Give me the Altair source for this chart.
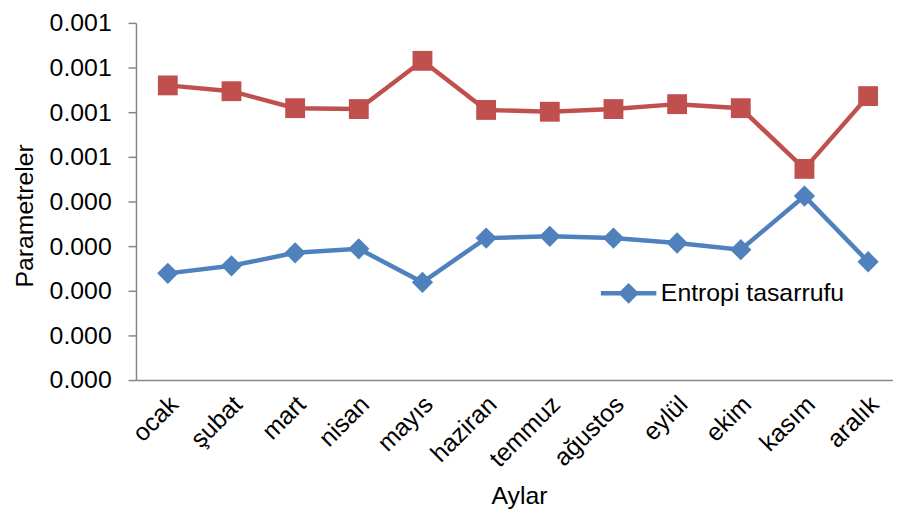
import altair as alt
import pandas as pd

months = ["ocak", "şubat", "mart", "nisan", "mayıs", "haziran", "temmuz",
          "ağustos", "eylül", "ekim", "kasım", "aralık"]
entropi = [0.000239, 0.000256, 0.000285, 0.000294, 0.000219, 0.000318,
           0.000322, 0.000318, 0.000307, 0.000292, 0.000412, 0.000265]
ikinci = [0.000660, 0.000647, 0.000609, 0.000607, 0.000715, 0.000605,
          0.000601, 0.000607, 0.000618, 0.000609, 0.000473, 0.000636]
series_names = ["Entropi tasarrufu", "Ekserji kaybı"]
y_ticks = [0.0, 0.0001, 0.0002, 0.0003, 0.0004, 0.0005, 0.0006, 0.0007, 0.0008]

rows = []
for m, a, b in zip(months, entropi, ikinci):
    rows.append({"ay": m, "seri": series_names[0], "deger": a})
    rows.append({"ay": m, "seri": series_names[1], "deger": b})
df = pd.DataFrame(rows)

FONT = "Liberation Sans"
FS = 25
BLUE = "#4F81BD"
RED = "#C0504D"
color_scale = alt.Scale(domain=series_names, range=[BLUE, RED])

x_enc = alt.X("ay:N", sort=months,
              scale=alt.Scale(paddingInner=0, paddingOuter=0, range=[0, 770]),
              axis=alt.Axis(title="Aylar", labelAngle=-45, labelAlign="right",
                            labelBaseline="middle", labelFontSize=FS,
                            titleFontSize=FS, titleFontWeight="normal",
                            labelFont=FONT, titleFont=FONT, labelColor="black",
                            titleColor="black", ticks=False, labelPadding=20,
                            labelOffset=6, titleX=386,
                            domainColor="#868686", domainWidth=1.5,
                            titlePadding=12))
y_enc = alt.Y("deger:Q", scale=alt.Scale(domain=[0, 0.0008], nice=False),
              axis=alt.Axis(title="Parametreler", values=y_ticks, format=".3f",
                            labelFontSize=FS, titleFontSize=FS,
                            titleFontWeight="normal", labelFont=FONT,
                            titleFont=FONT, labelColor="black",
                            titleColor="black", grid=False, tickSize=8,
                            tickColor="#868686", domainColor="#868686",
                            domainWidth=1.5, tickWidth=1.5, labelPadding=17,
                            titlePadding=12, titleY=194))

base = alt.Chart(df).encode(x=x_enc, y=y_enc)

line_blue = base.transform_filter(alt.datum.seri == series_names[0]).mark_line(
    strokeWidth=4.5, color=BLUE)
line_red = base.transform_filter(alt.datum.seri == series_names[1]).mark_line(
    strokeWidth=4.5, color=RED)

legend_path = "M-1.55,-0.13H1.55V0.13H-1.55Z M0,-0.58L0.58,0L0,0.58L-0.58,0Z"

leg = alt.Legend(values=[series_names[0]], title=None,
                 orient="none", legendX=478, legendY=254,
                 symbolType=legend_path, symbolSize=1300,
                 labelFontSize=FS, labelFont=FONT, labelLimit=400,
                 labelColor="black", labelOffset=14,
                 symbolStrokeWidth=0, symbolOpacity=1)

pts_red = base.transform_filter(alt.datum.seri == series_names[1]).mark_point(
    shape="square", filled=True, size=400, opacity=1).encode(
    color=alt.Color("seri:N", scale=color_scale, legend=leg))
pts_blue = base.transform_filter(alt.datum.seri == series_names[0]).mark_point(
    shape="diamond", filled=True, size=460, opacity=1).encode(
    color=alt.Color("seri:N", scale=color_scale, legend=leg))

chart = alt.layer(line_red, line_blue, pts_red, pts_blue).properties(
    width=748, height=360,
    autosize=alt.AutoSizeParams(type="none"),
    padding={"left": 129, "top": 13, "right": 15, "bottom": 135},
).configure(background="white").configure_view(stroke=None)

chart.save("out.html", embed_options={"renderer": "svg", "actions": False})
